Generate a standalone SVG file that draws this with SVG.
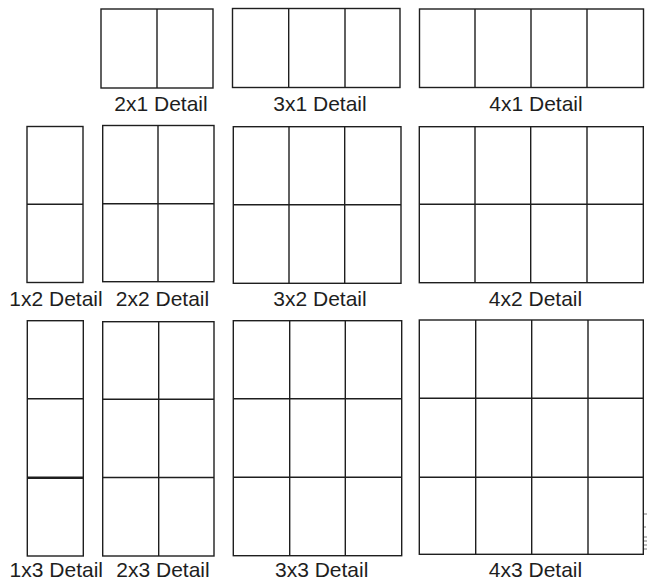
<svg xmlns="http://www.w3.org/2000/svg" width="647" height="582" viewBox="0 0 647 582">
<style>
.b{fill:none;stroke:#1e1e1e;stroke-width:1.4}
.t{font-family:"Liberation Sans",Arial,sans-serif;font-size:21px;fill:#1e1e1e;text-anchor:middle}
</style>
<rect width="647" height="582" fill="#fff"/>
<g id="d2x1"><rect class="b" x="101" y="9" width="112" height="79"/><path class="b" d="M157 9V88"/><text class="t" x="161" y="111">2x1 Detail</text></g>
<g id="d3x1"><rect class="b" x="232.5" y="8.5" width="167.5" height="79"/><path class="b" d="M288.7 8.5V87.5M345 8.5V87.5"/><text class="t" x="320" y="111">3x1 Detail</text></g>
<g id="d4x1"><rect class="b" x="419.5" y="9" width="224" height="78.5"/><path class="b" d="M475 9V87.5M531 9V87.5M587 9V87.5"/><text class="t" x="536" y="111">4x1 Detail</text></g>
<g id="d1x2"><rect class="b" x="27" y="126.5" width="56" height="156"/><path class="b" d="M27 204.3H83"/><text class="t" x="56" y="305.5">1x2 Detail</text></g>
<g id="d2x2"><rect class="b" x="102.7" y="125.5" width="111.3" height="156.2"/><path class="b" d="M158 125.5V281.7M102.7 203.7H214"/><text class="t" x="162.5" y="305.5">2x2 Detail</text></g>
<g id="d3x2"><rect class="b" x="233.3" y="126.7" width="167.7" height="156.6"/><path class="b" d="M289 126.7V283.3M344.7 126.7V283.3M233.3 204.7H401"/><text class="t" x="320" y="305.5">3x2 Detail</text></g>
<g id="d4x2"><rect class="b" x="419.3" y="126.7" width="224" height="156"/><path class="b" d="M475 126.7V282.7M530.7 126.7V282.7M587 126.7V282.7M419.3 204.3H643.3"/><text class="t" x="535.5" y="305.5">4x2 Detail</text></g>
<g id="d1x3"><rect class="b" x="27.3" y="320.7" width="56" height="235.3"/><path class="b" d="M27.3 398.7H83.3"/><path class="b" style="stroke-width:2.4" d="M27.3 477.8H83.3"/><text class="t" x="56.3" y="576.7">1x3 Detail</text></g>
<g id="d2x3"><rect class="b" x="102.7" y="321.7" width="111.3" height="234.3"/><path class="b" d="M158.7 321.7V556M102.7 399.3H214M102.7 477.5H214"/><text class="t" x="163" y="576.7">2x3 Detail</text></g>
<g id="d3x3"><rect class="b" x="233.3" y="320.7" width="168.4" height="235"/><path class="b" d="M289.7 320.7V555.7M345.3 320.7V555.7M233.3 398.7H401.7M233.3 477.3H401.7"/><text class="t" x="321.7" y="576.7">3x3 Detail</text></g>
<g id="d4x3"><rect class="b" x="419.3" y="320" width="224" height="234.3"/><path class="b" d="M475.7 320V554.3M531.7 320V554.3M588 320V554.3M419.3 398.3H643.3M419.3 477.3H643.3"/><text class="t" x="535.5" y="576.7">4x3 Detail</text></g>
<g id="marks"><path d="M644 514H647M645 526V528M644 537H647M644 541H647M644 545H647M644 549H647" stroke="#555" stroke-width="0.8" fill="none"/></g>
</svg>
